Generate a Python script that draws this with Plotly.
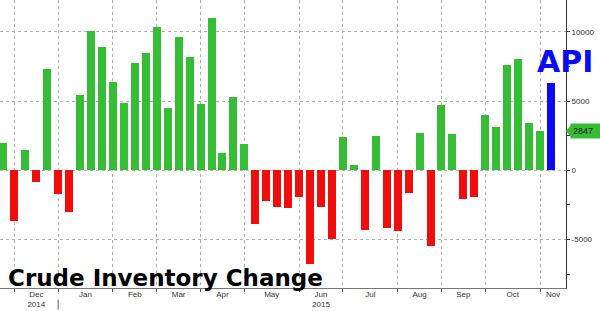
import pandas as pd
import plotly.graph_objects as go

# Weekly crude inventory change (thousand barrels), week ending Fridays
start_date = "2014-11-28"
eia_change = [1950, -3660, 1465, -820, 7310, -1730, -3030, 5410, 10070, 8920,
              6370, 4880, 7760, 8490, 10360, 4520, 9640, 8200, 4780, 10970,
              1270, 5310, 1920, -3870, -2190, -2670, -2740, -1900, -6780, -2670,
              -4930, 2420, 380, -4330, 2470, -4190, -4400, -1640, 2670, -5440,
              4710, 2600, -2090, -1930, 3990, 3100, 7580, 8050, 3390, 2847]
api_change = 6280
last_value_label = 2847

month_labels = ["Dec<br>2014", "Jan", "Feb", "Mar", "Apr", "May",
                "Jun<br>2015", "Jul", "Aug", "Sep", "Oct", "Nov"]
y_tick_vals = [-5000, 0, 5000, 10000]

dates = pd.date_range(start_date, periods=len(eia_change) + 1, freq="7D")
eia_dates = dates[:-1]
api_date = dates[-1]

GREEN = "#36bd36"
RED = "#f20d0d"
BLUE = "#0a0af5"

colors = [GREEN if v >= 0 else RED for v in eia_change]

x_start = dates[0] - pd.Timedelta(days=2.2)
x_end = dates[-1] + pd.Timedelta(days=9.6)

# gridlines at first weekly observation of each month
grid_dates = [d for d in dates if d.day <= 7]
bounds = list(grid_dates) + [x_end]
mid_dates = [bounds[i] + (bounds[i + 1] - bounds[i]) / 2 for i in range(len(grid_dates))]

bar_width_ms = 5.1 * 24 * 3600 * 1000

fig = go.Figure()
fig.add_trace(go.Bar(x=eia_dates, y=eia_change, marker=dict(color=colors, line=dict(width=0)),
                     width=bar_width_ms, showlegend=False))
fig.add_trace(go.Bar(x=[api_date], y=[api_change], marker=dict(color=BLUE, line=dict(width=0)),
                     width=bar_width_ms, showlegend=False))
# invisible helper so the label axis is rendered
fig.add_trace(go.Scatter(x=[api_date], y=[0], xaxis="x2", mode="markers",
                         marker=dict(opacity=0), hoverinfo="skip", showlegend=False))

tick_font = dict(family="Liberation Sans, Arial, sans-serif", size=8, color="#333333")

fig.update_layout(
    width=600, height=311,
    margin=dict(l=0, r=34, t=0, b=23),
    paper_bgcolor="white", plot_bgcolor="white",
    bargap=0,
    xaxis=dict(
        type="date", range=[x_start, x_end],
        tickvals=grid_dates, showticklabels=False,
        ticks="outside", ticklen=3, tickcolor="#555555",
        showgrid=True, gridcolor="#b0b0b0", griddash="dot", gridwidth=1,
        showline=True, linecolor="#777777", linewidth=1,
        zeroline=False,
    ),
    xaxis2=dict(
        type="date", overlaying="x", matches="x", side="bottom",
        tickvals=mid_dates, ticktext=month_labels,
        showgrid=False, ticks="", showline=False, zeroline=False,
        tickfont=tick_font,
    ),
    yaxis=dict(
        side="right", range=[-8490, 12290],
        tickvals=y_tick_vals, ticktext=["-5000", "0", "5000", "10000"],
        ticks="outside", ticklen=3, tickcolor="#333333",
        minor=dict(dtick=2500, tick0=0, ticks="outside", ticklen=3, tickcolor="#333333", showgrid=False),
        showgrid=True, gridcolor="#b0b0b0", griddash="dot", gridwidth=1,
        showline=True, linecolor="#333333", linewidth=1,
        zeroline=False, tickfont=tick_font,
    ),
)

# year divider under the axis
fig.add_shape(type="line", xref="x", yref="paper",
              x0=grid_dates[1], x1=grid_dates[1], y0=-0.04, y1=-0.075,
              line=dict(color="#666666", width=1))

# last-value tag on the right axis
fig.add_annotation(xref="paper", yref="y", x=1, y=last_value_label,
                   text=str(last_value_label) + "   ", showarrow=False,
                   xanchor="left", yanchor="middle", xshift=4,
                   bgcolor=GREEN, borderpad=2,
                   font=dict(family="Liberation Sans, Arial, sans-serif", size=9, color="#1a1a1a"))
fig.add_shape(type="path", xref="paper", yref="y",
              path=f"M 1.0 {last_value_label} L 1.01 {last_value_label + 470} L 1.01 {last_value_label - 470} Z",
              fillcolor=GREEN, line=dict(width=0))

fig.add_annotation(xref="paper", yref="paper", x=0.998, y=0.788,
                   text="<b>API</b>", showarrow=False, xanchor="center", yanchor="middle",
                   font=dict(family="DejaVu Sans", size=30, color=BLUE))

fig.add_annotation(xref="paper", yref="paper", x=6 / 566, y=0.035,
                   text="<b>Crude Inventory Change</b>", showarrow=False,
                   xanchor="left", yanchor="middle",
                   font=dict(family="DejaVu Sans", size=23, color="black"))

fig.write_html("out.html")
